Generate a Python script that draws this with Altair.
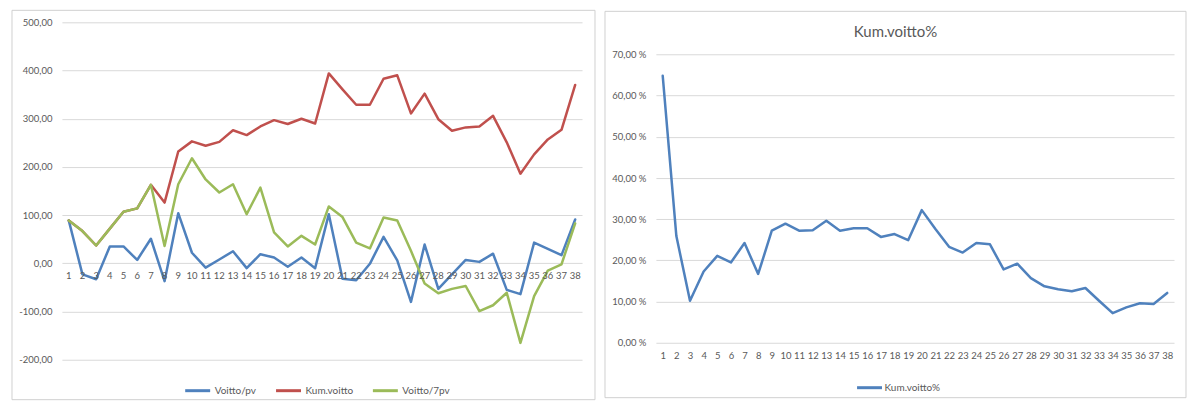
import altair as alt
import pandas as pd

# ---- data ----
days = list(range(1, 39))
series_names = ["Voitto/pv", "Kum.voitto", "Voitto/7pv"]
series_colors = ["#4F81BD", "#C0504D", "#9BBB59"]

voitto_pv = [89, -23, -33, 35, 35, 7, 51, -37, 104, 22, -9, 8, 25, -10, 19, 12, -7, 12, -10,
             102, -32, -35, -1, 55, 6, -80, 39, -53, -23, 7, 3, 20, -55, -64, 43, 30, 17, 91]
kum_voitto = [89, 67, 37, 72, 107, 114, 163, 126, 232, 253, 244, 252, 276, 266, 284, 297, 289, 300, 290,
              394, 361, 329, 329, 383, 390, 311, 352, 299, 275, 282, 284, 306, 251, 186, 226, 257, 277, 370]
voitto_7pv = [89, 67, 37, 72, 107, 114, 163, 36, 164, 218, 174, 147, 164, 102, 157, 64, 35, 57, 39,
              118, 96, 43, 31, 95, 89, 26, -42, -62, -53, -47, -99, -87, -61, -165, -68, -15, -2, 83]

pct_name = "Kum.voitto%"
kum_pct = [64.8, 25.9, 10.2, 17.3, 21.1, 19.5, 24.2, 16.7, 27.2, 28.9, 27.2, 27.3, 29.6, 27.2, 27.8,
           27.8, 25.7, 26.4, 24.9, 32.2, 27.6, 23.3, 21.9, 24.2, 23.9, 17.8, 19.2, 15.7, 13.7, 13.0,
           12.5, 13.3, 10.2, 7.2, 8.6, 9.6, 9.4, 12.1]

y_ticks_left = [-200, -100, 0, 100, 200, 300, 400, 500]
y_ticks_right = [0, 10, 20, 30, 40, 50, 60, 70]

FONT = "Lato"
TXT = "#595959"
GRID = "#d9d9d9"
FRAME = "#d0d0d0"

# ---- left chart ----
rows = []
for name, vals in zip(series_names, [voitto_pv, kum_voitto, voitto_7pv]):
    for d, v in zip(days, vals):
        rows.append({"day": d, "value": v, "series": name})
left_df = pd.DataFrame(rows)

LW, LH = 521, 338
x_left = alt.X("day:Q", scale=alt.Scale(domain=[0.5, 38.5], nice=False, zero=False), axis=None)
y_left = alt.Y(
    "value:Q",
    scale=alt.Scale(domain=[-200, 500], nice=False, zero=False),
    axis=alt.Axis(values=y_ticks_left, title=None, grid=True, gridColor=GRID, gridWidth=1,
                  domain=False, ticks=False, tickSize=0, labelPadding=10,
                  labelExpr="(datum.value < 0 ? '-' : '') + replace(format(abs(datum.value), '.2f'), '.', ',')",
                  labelFont=FONT, labelFontSize=9.5, labelColor=TXT),
)
color_left = alt.Color(
    "series:N",
    scale=alt.Scale(domain=series_names, range=series_colors),
    legend=alt.Legend(title=None, orient="none", legendX=122, legendY=355, direction="horizontal",
                      symbolType="stroke", symbolSize=625, symbolStrokeWidth=3,
                      labelFont=FONT, labelFontSize=10, labelColor=TXT, labelOffset=3,
                      columnPadding=13, padding=0),
)

frame_left = alt.Chart(pd.DataFrame({"f": [0]})).mark_rect(
    fill="white", fillOpacity=0, stroke=FRAME, strokeWidth=1
).encode(x=alt.value(-50), x2=alt.value(534), y=alt.value(-12), y2=alt.value(378))

line_layers = []
for name in series_names:
    line_layers.append(
        alt.Chart(left_df).transform_filter(alt.datum.series == name)
        .mark_line(strokeWidth=2.5, strokeJoin="round", strokeCap="round")
        .encode(x=x_left, y=y_left, color=color_left)
    )

xlabels = alt.Chart(pd.DataFrame({"day": days})).mark_text(
    font=FONT, fontSize=9.5, color=TXT, baseline="middle", dy=13
).encode(x=x_left, y=alt.datum(0), text="day:N")

left = alt.layer(frame_left, *line_layers, xlabels).properties(width=LW, height=LH)

# ---- right chart ----
right_df = pd.DataFrame({"day": days, "value": kum_pct, "series": [pct_name] * len(days)})
RW, RH = 519, 321
x_right = alt.X(
    "day:Q",
    scale=alt.Scale(domain=[0.5, 38.5], nice=False, zero=False),
    axis=alt.Axis(values=days, format="d", title=None, grid=False, domain=False, ticks=False,
                  tickSize=0, labelPadding=8, labelOverlap=False, labelFlush=False, labelAngle=0,
                  labelFont=FONT, labelFontSize=9.5, labelColor=TXT),
)
y_right = alt.Y(
    "value:Q",
    scale=alt.Scale(domain=[0, 77.8], nice=False, zero=False),
    axis=alt.Axis(values=y_ticks_right, title=None, grid=True, gridColor=GRID, gridWidth=1,
                  domain=False, ticks=False, tickSize=0, labelPadding=10,
                  labelExpr="replace(format(datum.value, '.2f'), '.', ',') + ' %'",
                  labelFont=FONT, labelFontSize=9.5, labelColor=TXT),
)
color_right = alt.Color(
    "series:N",
    scale=alt.Scale(domain=[pct_name], range=["#4F81BD"]),
    legend=alt.Legend(title=None, orient="none", legendX=200, legendY=352, direction="horizontal",
                      symbolType="stroke", symbolSize=625, symbolStrokeWidth=3,
                      labelFont=FONT, labelFontSize=10, labelColor=TXT, labelOffset=1, padding=0),
)

frame_right = alt.Chart(pd.DataFrame({"f": [0]})).mark_rect(
    fill="white", fillOpacity=0, stroke=FRAME, strokeWidth=1
).encode(x=alt.value(-51), x2=alt.value(531), y=alt.value(-11), y2=alt.value(376))

line_right = alt.Chart(right_df).mark_line(strokeWidth=2.5, strokeJoin="round", strokeCap="round").encode(
    x=x_right, y=y_right, color=color_right
)

title_right = alt.Chart(pd.DataFrame({"t": [pct_name]})).mark_text(
    font=FONT, fontSize=15, color=TXT, baseline="middle", align="center"
).encode(x=alt.value(240), y=alt.value(10), text="t:N")

right = alt.layer(frame_right, line_right, title_right).properties(width=RW, height=RH)

chart = (
    alt.hconcat(left, right, spacing=8)
    .resolve_scale(color="independent", x="independent", y="independent")
    .resolve_legend(color="independent")
    .configure_view(strokeWidth=0)
    .properties(padding={"left": 3, "top": 1, "right": 5, "bottom": 5}, background="white")
)

chart.save("out.html", embed_options={"renderer": "svg", "actions": False})
